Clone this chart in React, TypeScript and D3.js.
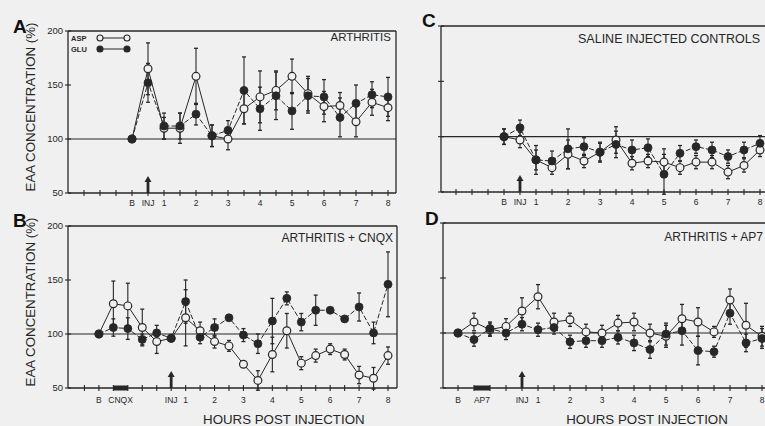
import React, { useEffect, useRef } from 'react';
import * as d3 from 'd3';

const yTicks = [50, 100, 150, 200];
const hourTicks = [1, 2, 3, 4, 5, 6, 7, 8];

// A - arthritis
const hoursA = [0, 0.5, 1, 1.5, 2, 2.5, 3, 3.5, 4, 4.5, 5, 5.5, 6, 6.5, 7, 7.5, 8];
const aspA = [100, 165, 110, 110, 158, 103, 100, 128, 139, 145, 158, 142, 130, 131, 116, 134, 129];
const gluA = [100, 152, 112, 112, 123, 103, 108, 145, 128, 140, 126, 140, 139, 120, 133, 141, 139];
const aspErrA = [0, 24, 10, 14, 26, 10, 10, 14, 24, 18, 16, 16, 14, 12, 14, 12, 12];
const gluErrA = [0, 18, 12, 12, 10, 10, 9, 31, 20, 22, 17, 16, 16, 18, 17, 12, 18];

// B - arthritis + CNQX
const hoursB = [-2, -1.5, -1, -0.5, 0, 0.5, 1, 1.5, 2, 2.5, 3, 3.5, 4, 4.5, 5, 5.5, 6, 6.5, 7, 7.5, 8];
const aspB = [100, 128, 126, 106, 93, 96, 115, 103, 93, 89, 72, 57, 81, 103, 73, 80, 86, 81, 62, 59, 80];
const gluB = [100, 106, 105, 95, 101, 96, 130, 97, 106, 115, 99, 91, 112, 133, 111, 122, 122, 114, 125, 101, 146];
const aspErrB = [0, 21, 21, 17, 11, 0, 26, 8, 6, 5, 0, 9, 16, 16, 6, 6, 5, 5, 8, 10, 8];
const gluErrB = [0, 8, 10, 5, 7, 0, 20, 6, 8, 0, 6, 9, 21, 6, 8, 14, 0, 0, 13, 10, 30];

// C - saline injected controls
const hoursC = [0, 0.5, 1, 1.5, 2, 2.5, 3, 3.5, 4, 4.5, 5, 5.5, 6, 6.5, 7, 7.5, 8];
const aspC = [100, 97, 79, 72, 84, 78, 86, 97, 76, 78, 77, 72, 77, 77, 68, 74, 88];
const gluC = [100, 108, 79, 78, 89, 91, 86, 93, 88, 90, 66, 85, 91, 88, 82, 88, 94];
const aspErrC = [7, 7, 9, 6, 13, 6, 8, 12, 6, 6, 12, 6, 6, 6, 6, 6, 6];
const gluErrC = [7, 7, 13, 9, 18, 8, 9, 12, 9, 8, 18, 7, 6, 7, 6, 7, 7];

// D - arthritis + AP7
const hoursD = [-1.5, -1, -0.5, 0, 0.5, 1, 1.5, 2, 2.5, 3, 3.5, 4, 4.5, 5, 5.5, 6, 6.5, 7, 7.5, 8];
const aspD = [100, 110, 103, 106, 120, 133, 110, 112, 101, 100, 109, 110, 100, 97, 113, 110, 101, 130, 107, 97];
const gluD = [100, 94, 104, 100, 108, 103, 105, 92, 93, 93, 96, 91, 85, 99, 102, 84, 83, 118, 91, 95];
const aspErrD = [0, 8, 6, 7, 12, 11, 8, 6, 7, 7, 7, 8, 8, 10, 13, 13, 5, 10, 20, 9];
const gluErrD = [0, 6, 6, 6, 6, 6, 6, 6, 6, 6, 6, 7, 8, 10, 13, 13, 5, 10, 8, 9];

const W = 765;
const H = 426;
const ink = '#272727';
const paper = '#eff0ef';
const font = '"Liberation Sans", Arial, Helvetica, sans-serif';

const panels = [
    {
        letter: 'A', title: 'ARTHRITIS', hours: hoursA, asp: aspA, glu: gluA, aspErr: aspErrA, gluErr: gluErrA,
        xDomain: [-2, 8], xRange: [68, 388], left: 68, right: 396, top: 31, bottom: 193, boxed: true,
        yLabels: true, legend: true, baseline: 0, drug: null, drugSpan: null, xTitle: false,
        titleX: 391, titleY: 41, titleSize: 11.5, letterX: 13, letterY: 33, tickLabelY: 206
    },
    {
        letter: 'B', title: 'ARTHRITIS + CNQX', hours: hoursB, asp: aspB, glu: gluB, aspErr: aspErrB, gluErr: gluErrB,
        xDomain: [-3, 8], xRange: [70, 388], left: 68, right: 397, top: 226, bottom: 388, boxed: true,
        yLabels: true, legend: false, baseline: -2, drug: 'CNQX', drugSpan: [-1.5, -1], xTitle: true,
        titleX: 393, titleY: 242, titleSize: 12, letterX: 13, letterY: 227, tickLabelY: 403
    },
    {
        letter: 'C', title: 'SALINE INJECTED CONTROLS', hours: hoursC, asp: aspC, glu: gluC, aspErr: aspErrC, gluErr: gluErrC,
        xDomain: [-2, 8], xRange: [440, 760], left: 441, right: 775, top: 26, bottom: 192, boxed: false,
        yLabels: false, legend: false, baseline: 0, drug: null, drugSpan: null, xTitle: false,
        titleX: 760, titleY: 43, titleSize: 12.5, letterX: 422, letterY: 27, tickLabelY: 205
    },
    {
        letter: 'D', title: 'ARTHRITIS + AP7', hours: hoursD, asp: aspD, glu: gluD, aspErr: aspErrD, gluErr: gluErrD,
        xDomain: [-2, 8], xRange: [442, 762], left: 443, right: 775, top: 223, bottom: 388, boxed: false,
        yLabels: false, legend: false, baseline: -1.5, drug: 'AP7', drugSpan: [-1, -0.5], xTitle: true,
        titleX: 763, titleY: 241, titleSize: 12, letterX: 425, letterY: 225, tickLabelY: 403
    }
];

export default function App() {

    const svgRef = useRef(null);

    const renderPanel = (svg, p) => {
        const x = d3.scaleLinear().domain(p.xDomain).range(p.xRange);
        const y = d3.scaleLinear().domain([50, 200]).range([p.bottom, p.top]);
        const g = svg.append('g')
            .attr('stroke', ink)
            .attr('fill', 'none');

        // frame
        const seg = (x1, y1, x2, y2, w = 1.2) => g.append('line')
            .attr('x1', x1).attr('y1', y1).attr('x2', x2).attr('y2', y2)
            .attr('stroke-width', w);

        seg(p.left, p.top, p.left, p.bottom, 1.3);
        seg(p.left, p.top, p.right, p.top, 1.3);
        seg(p.left, p.bottom, p.right, p.bottom, 1.3);
        if (p.boxed) seg(p.right, p.top, p.right, p.bottom, 1.3);
        seg(p.left, y(100), p.right, y(100), 1.1);

        // y ticks
        yTicks.forEach(t => {
            seg(p.left - 3, y(t), p.left + 3, y(t), 1.1);
        });
        if (p.yLabels) {
            svg.selectAll('ylab-' + p.letter)
                .data(yTicks)
                .enter()
                .append('text')
                .attr('x', p.left - 5)
                .attr('y', d => y(d) + 3.3)
                .attr('text-anchor', 'end')
                .attr('font-family', font)
                .attr('font-size', 9.5)
                .attr('fill', ink)
                .text(d => d);

            svg.append('text')
                .attr('transform', `translate(35, ${(p.top + p.bottom) / 2 - 5}) rotate(-90)`)
                .attr('text-anchor', 'middle')
                .attr('font-family', font)
                .attr('font-size', 13.3)
                .attr('fill', ink)
                .text('EAA CONCENTRATION (%)');
        }

        // x ticks every half hour
        d3.range(p.xDomain[0] + 0.5, 8.01, 0.5).forEach(h => {
            seg(x(h), p.bottom - 3, x(h), p.bottom + 3, 1.1);
        });

        const xLabels = [{ h: p.baseline, label: 'B' }, { h: 0.5, label: 'INJ' }]
            .concat(hourTicks.map(h => ({ h: h, label: String(h) })));
        if (p.drug) xLabels.push({ h: (p.drugSpan[0] + p.drugSpan[1]) / 2, label: p.drug });

        svg.selectAll('xlab-' + p.letter)
            .data(xLabels)
            .enter()
            .append('text')
            .attr('x', d => x(d.h))
            .attr('y', p.tickLabelY)
            .attr('text-anchor', 'middle')
            .attr('font-family', font)
            .attr('font-size', 8.5)
            .attr('fill', ink)
            .text(d => d.label);

        // drug bar on the axis
        if (p.drugSpan) {
            svg.append('rect')
                .attr('x', x(p.drugSpan[0]))
                .attr('y', p.bottom - 2.5)
                .attr('width', x(p.drugSpan[1]) - x(p.drugSpan[0]))
                .attr('height', 5)
                .attr('fill', ink);
        }

        // injection arrow
        const ax = x(0.5);
        seg(ax, p.bottom, ax, p.bottom - 12, 2.8);
        svg.append('path')
            .attr('d', `M${ax - 3.5},${p.bottom - 11} L${ax + 3.5},${p.bottom - 11} L${ax},${p.bottom - 17} Z`)
            .attr('fill', ink);

        // series
        const line = d3.line()
            .x((d, i) => x(p.hours[i]))
            .y(d => y(d));

        g.append('path').attr('d', line(p.asp)).attr('stroke-width', 1);
        g.append('path').attr('d', line(p.glu)).attr('stroke-width', 1).attr('stroke-dasharray', '5,2');

        const errBars = (vals, errs) => {
            vals.forEach((v, i) => {
                const e = errs[i];
                if (!e) return;
                const cx = x(p.hours[i]);
                seg(cx, y(v - e), cx, y(v + e), 1.1);
                seg(cx - 2, y(v + e), cx + 2, y(v + e), 1.3);
                seg(cx - 2, y(v - e), cx + 2, y(v - e), 1.3);
            });
        };
        errBars(p.asp, p.aspErr);
        errBars(p.glu, p.gluErr);

        g.selectAll('asp-dots')
            .data(p.asp)
            .enter()
            .append('circle')
            .attr('cx', (d, i) => x(p.hours[i]))
            .attr('cy', d => y(d))
            .attr('r', 3.9)
            .attr('fill', paper)
            .attr('stroke-width', 1.2);

        g.selectAll('glu-dots')
            .data(p.glu)
            .enter()
            .append('circle')
            .attr('cx', (d, i) => x(p.hours[i]))
            .attr('cy', d => y(d))
            .attr('r', 4)
            .attr('fill', ink)
            .attr('stroke-width', 0.8);

        // panel title and letter
        svg.append('text')
            .attr('x', p.titleX)
            .attr('y', p.titleY)
            .attr('text-anchor', 'end')
            .attr('font-family', font)
            .attr('font-size', p.titleSize)
            .attr('fill', ink)
            .text(p.title);

        svg.append('text')
            .attr('x', p.letterX)
            .attr('y', p.letterY)
            .attr('font-family', font)
            .attr('font-weight', 'bold')
            .attr('font-size', 19)
            .attr('fill', '#111')
            .text(p.letter);

        if (p.xTitle) {
            svg.append('text')
                .attr('x', (x(1) + x(8)) / 2 - 3)
                .attr('y', 424)
                .attr('text-anchor', 'middle')
                .attr('font-family', font)
                .attr('font-size', 13.3)
                .attr('fill', ink)
                .text('HOURS POST INJECTION');
        }

        if (p.legend) {
            const rows = [{ name: 'ASP', filled: false, yy: 38 }, { name: 'GLU', filled: true, yy: 49 }];
            rows.forEach(r => {
                svg.append('text')
                    .attr('x', 71)
                    .attr('y', r.yy + 2.8)
                    .attr('font-family', font)
                    .attr('font-weight', 'bold')
                    .attr('font-size', 7.5)
                    .attr('fill', ink)
                    .text(r.name);
                seg(103, r.yy, 124, r.yy, 1);
                [100, 127].forEach(cx => {
                    g.append('circle')
                        .attr('cx', cx)
                        .attr('cy', r.yy)
                        .attr('r', 3)
                        .attr('fill', r.filled ? ink : paper)
                        .attr('stroke-width', 1.1);
                });
            });
        }
    };

    useEffect(() => {
        const svg = d3.select(svgRef.current);
        svg.selectAll('*').remove();
        svg.append('rect')
            .attr('width', W)
            .attr('height', H)
            .attr('fill', paper);
        panels.forEach(p => renderPanel(svg, p));
    }, []);

    return (
        <svg ref={svgRef} width={W} height={H}
            style={{ position: 'absolute', left: 0, top: 0, display: 'block' }}></svg>
    );
}
